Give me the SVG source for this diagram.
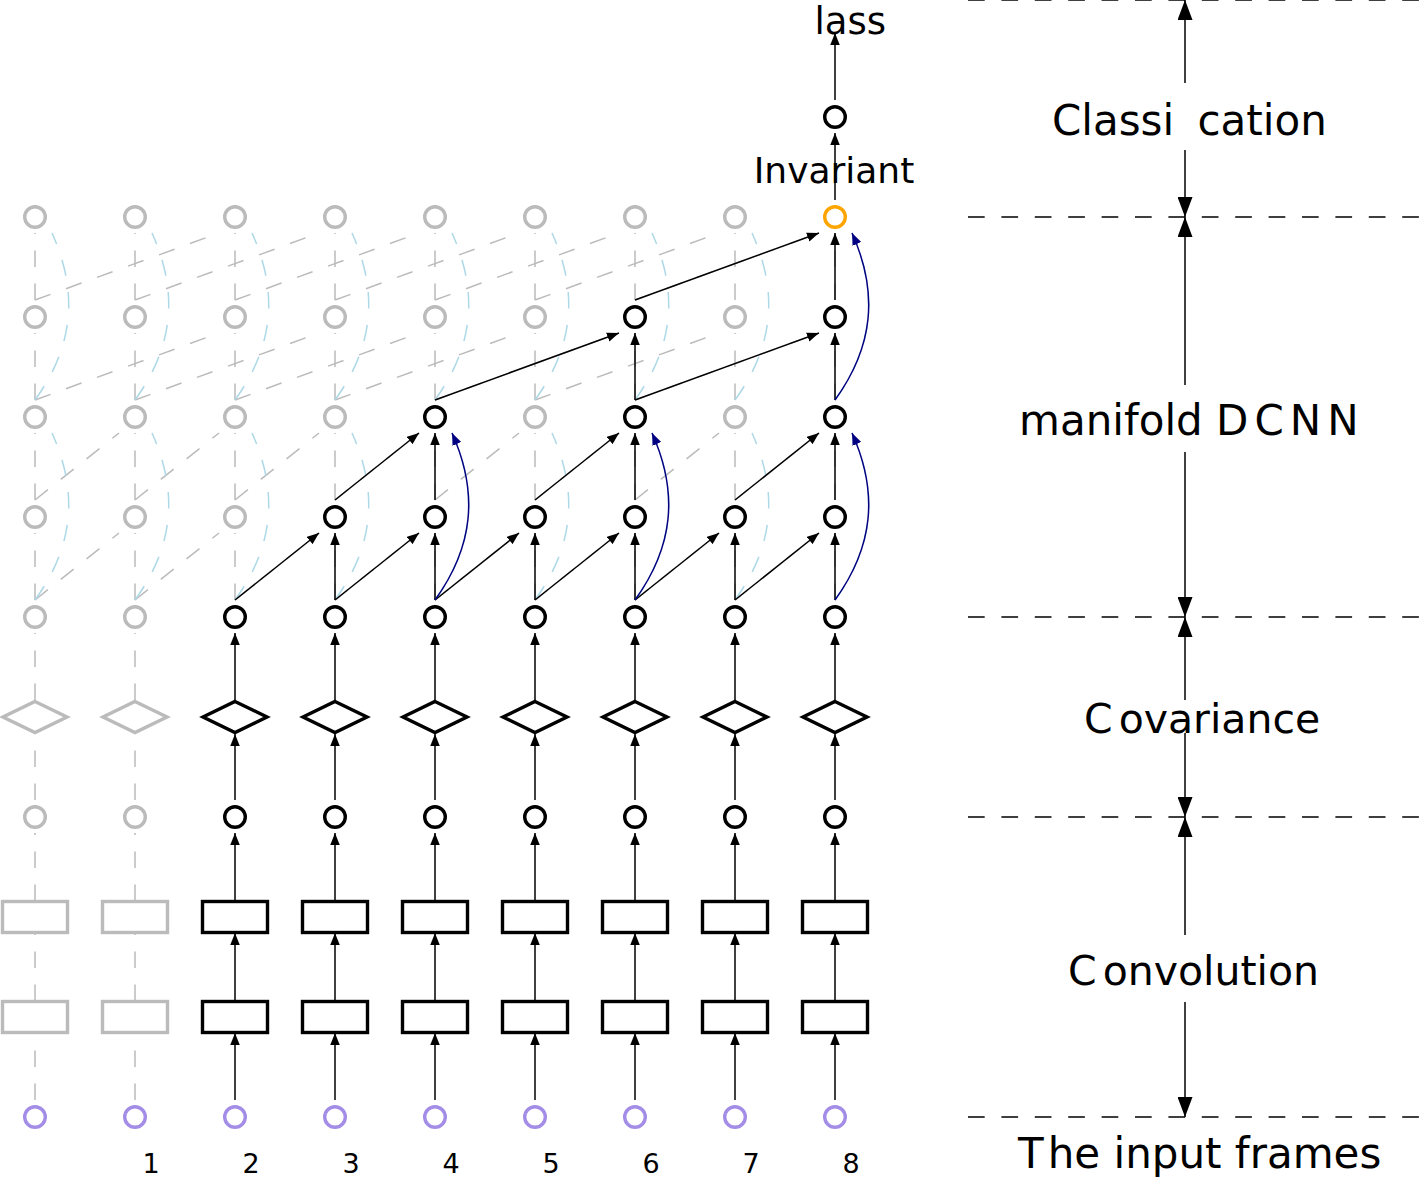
<svg xmlns="http://www.w3.org/2000/svg" width="1421" height="1179" viewBox="0 0 1421 1179">
<style>
.g{fill:none;stroke:#bbbbbb;stroke-width:1.5;stroke-dasharray:16.5 16.5}
.lb{fill:none;stroke:#add8e6;stroke-width:1.5;stroke-dasharray:16.5 16.5}
.e{fill:none;stroke:#000;stroke-width:1.5;marker-end:url(#ah)}
.b{fill:none;stroke:#000080;stroke-width:1.5;marker-end:url(#ahb)}
.nb{fill:#fff;stroke:#000;stroke-width:3.4}
.ng{fill:#fff;stroke:#bbbbbb;stroke-width:3.4}
.no{fill:#fff;stroke:#ffa500;stroke-width:3.4}
.np{fill:#fff;stroke:#a48de6;stroke-width:3.4}
.t{font-family:"DejaVu Sans",sans-serif;fill:#000}
.rl{fill:none;stroke:#000;stroke-width:1.5;stroke-dasharray:16.7 16.7}
.ra{fill:none;stroke:#000;stroke-width:1.5;marker-end:url(#big)}
</style>
<defs>
<marker id="ah" markerUnits="userSpaceOnUse" viewBox="0 0 12 9.5" refX="12" refY="4.75" markerWidth="12" markerHeight="9.5" orient="auto"><path d="M0,0L12,4.75L0,9.5z" fill="#000"/></marker>
<marker id="ahb" markerUnits="userSpaceOnUse" viewBox="0 0 12 9.5" refX="12" refY="4.75" markerWidth="12" markerHeight="9.5" orient="auto"><path d="M0,0L12,4.75L0,9.5z" fill="#000080"/></marker>
<marker id="big" markerUnits="userSpaceOnUse" viewBox="0 0 20 15" refX="20" refY="7.5" markerWidth="20" markerHeight="15" orient="auto"><path d="M0,0L20,7.5L0,15z" fill="#000"/></marker>
</defs>

<g id="connectors">
<g id="gray-edges">
<line class="g" x1="35" y1="600" x2="35" y2="533"/><line class="g" x1="135" y1="600" x2="135" y2="533"/><line class="g" x1="235" y1="600" x2="235" y2="533"/><line class="g" x1="335" y1="600" x2="335" y2="533"/><line class="g" x1="435" y1="600" x2="435" y2="533"/><line class="g" x1="535" y1="600" x2="535" y2="533"/><line class="g" x1="635" y1="600" x2="635" y2="533"/><line class="g" x1="735" y1="600" x2="735" y2="533"/><line class="g" x1="835" y1="600" x2="835" y2="533"/>
<line class="g" x1="35" y1="600" x2="119" y2="533"/><line class="g" x1="135" y1="600" x2="219" y2="533"/><line class="g" x1="235" y1="600" x2="319" y2="533"/><line class="g" x1="335" y1="600" x2="419" y2="533"/><line class="g" x1="435" y1="600" x2="519" y2="533"/><line class="g" x1="535" y1="600" x2="619" y2="533"/><line class="g" x1="635" y1="600" x2="719" y2="533"/><line class="g" x1="735" y1="600" x2="819" y2="533"/>
<line class="g" x1="35" y1="500" x2="35" y2="433"/><line class="g" x1="135" y1="500" x2="135" y2="433"/><line class="g" x1="235" y1="500" x2="235" y2="433"/><line class="g" x1="335" y1="500" x2="335" y2="433"/><line class="g" x1="435" y1="500" x2="435" y2="433"/><line class="g" x1="535" y1="500" x2="535" y2="433"/><line class="g" x1="635" y1="500" x2="635" y2="433"/><line class="g" x1="735" y1="500" x2="735" y2="433"/><line class="g" x1="835" y1="500" x2="835" y2="433"/>
<line class="g" x1="35" y1="500" x2="119" y2="433"/><line class="g" x1="135" y1="500" x2="219" y2="433"/><line class="g" x1="235" y1="500" x2="319" y2="433"/><line class="g" x1="335" y1="500" x2="419" y2="433"/><line class="g" x1="435" y1="500" x2="519" y2="433"/><line class="g" x1="535" y1="500" x2="619" y2="433"/><line class="g" x1="635" y1="500" x2="719" y2="433"/><line class="g" x1="735" y1="500" x2="819" y2="433"/>
<line class="g" x1="35" y1="400" x2="35" y2="333"/><line class="g" x1="135" y1="400" x2="135" y2="333"/><line class="g" x1="235" y1="400" x2="235" y2="333"/><line class="g" x1="335" y1="400" x2="335" y2="333"/><line class="g" x1="435" y1="400" x2="435" y2="333"/><line class="g" x1="535" y1="400" x2="535" y2="333"/><line class="g" x1="635" y1="400" x2="635" y2="333"/><line class="g" x1="735" y1="400" x2="735" y2="333"/><line class="g" x1="835" y1="400" x2="835" y2="333"/>
<line class="g" x1="35" y1="400" x2="219" y2="333"/><line class="g" x1="135" y1="400" x2="319" y2="333"/><line class="g" x1="235" y1="400" x2="419" y2="333"/><line class="g" x1="335" y1="400" x2="519" y2="333"/><line class="g" x1="435" y1="400" x2="619" y2="333"/><line class="g" x1="535" y1="400" x2="719" y2="333"/><line class="g" x1="635" y1="400" x2="819" y2="333"/>
<line class="g" x1="35" y1="300" x2="35" y2="233"/><line class="g" x1="135" y1="300" x2="135" y2="233"/><line class="g" x1="235" y1="300" x2="235" y2="233"/><line class="g" x1="335" y1="300" x2="335" y2="233"/><line class="g" x1="435" y1="300" x2="435" y2="233"/><line class="g" x1="535" y1="300" x2="535" y2="233"/><line class="g" x1="635" y1="300" x2="635" y2="233"/><line class="g" x1="735" y1="300" x2="735" y2="233"/><line class="g" x1="835" y1="300" x2="835" y2="233"/>
<line class="g" x1="35" y1="300" x2="219" y2="233"/><line class="g" x1="135" y1="300" x2="319" y2="233"/><line class="g" x1="235" y1="300" x2="419" y2="233"/><line class="g" x1="335" y1="300" x2="519" y2="233"/><line class="g" x1="435" y1="300" x2="619" y2="233"/><line class="g" x1="535" y1="300" x2="719" y2="233"/><line class="g" x1="635" y1="300" x2="819" y2="233"/>
<line class="g" x1="35" y1="1100" x2="35" y2="1033"/><line class="g" x1="35" y1="1001" x2="35" y2="933"/><line class="g" x1="35" y1="901" x2="35" y2="833"/><line class="g" x1="35" y1="800" x2="35" y2="734"/><line class="g" x1="35" y1="700" x2="35" y2="633"/>
<line class="g" x1="135" y1="1100" x2="135" y2="1033"/><line class="g" x1="135" y1="1001" x2="135" y2="933"/><line class="g" x1="135" y1="901" x2="135" y2="833"/><line class="g" x1="135" y1="800" x2="135" y2="734"/><line class="g" x1="135" y1="700" x2="135" y2="633"/>
</g>
<g id="lightblue-edges">
<path class="lb" d="M35,600C73.4,546.7 78.9,492.9 52,433"/><path class="lb" d="M135,600C173.4,546.7 178.9,492.9 152,433"/><path class="lb" d="M235,600C273.4,546.7 278.9,492.9 252,433"/><path class="lb" d="M335,600C373.4,546.7 378.9,492.9 352,433"/><path class="lb" d="M435,600C473.4,546.7 478.9,492.9 452,433"/><path class="lb" d="M535,600C573.4,546.7 578.9,492.9 552,433"/><path class="lb" d="M635,600C673.4,546.7 678.9,492.9 652,433"/><path class="lb" d="M735,600C773.4,546.7 778.9,492.9 752,433"/><path class="lb" d="M835,600C873.4,546.7 878.9,492.9 852,433"/>
<path class="lb" d="M35,400C73.4,346.7 78.9,292.9 52,233"/><path class="lb" d="M135,400C173.4,346.7 178.9,292.9 152,233"/><path class="lb" d="M235,400C273.4,346.7 278.9,292.9 252,233"/><path class="lb" d="M335,400C373.4,346.7 378.9,292.9 352,233"/><path class="lb" d="M435,400C473.4,346.7 478.9,292.9 452,233"/><path class="lb" d="M535,400C573.4,346.7 578.9,292.9 552,233"/><path class="lb" d="M635,400C673.4,346.7 678.9,292.9 652,233"/><path class="lb" d="M735,400C773.4,346.7 778.9,292.9 752,233"/><path class="lb" d="M835,400C873.4,346.7 878.9,292.9 852,233"/>
</g>
<g id="black-edges">
<line class="e" x1="235" y1="1100" x2="235" y2="1033"/><line class="e" x1="335" y1="1100" x2="335" y2="1033"/><line class="e" x1="435" y1="1100" x2="435" y2="1033"/><line class="e" x1="535" y1="1100" x2="535" y2="1033"/><line class="e" x1="635" y1="1100" x2="635" y2="1033"/><line class="e" x1="735" y1="1100" x2="735" y2="1033"/><line class="e" x1="835" y1="1100" x2="835" y2="1033"/>
<line class="e" x1="235" y1="1001" x2="235" y2="933"/><line class="e" x1="335" y1="1001" x2="335" y2="933"/><line class="e" x1="435" y1="1001" x2="435" y2="933"/><line class="e" x1="535" y1="1001" x2="535" y2="933"/><line class="e" x1="635" y1="1001" x2="635" y2="933"/><line class="e" x1="735" y1="1001" x2="735" y2="933"/><line class="e" x1="835" y1="1001" x2="835" y2="933"/>
<line class="e" x1="235" y1="901" x2="235" y2="833"/><line class="e" x1="335" y1="901" x2="335" y2="833"/><line class="e" x1="435" y1="901" x2="435" y2="833"/><line class="e" x1="535" y1="901" x2="535" y2="833"/><line class="e" x1="635" y1="901" x2="635" y2="833"/><line class="e" x1="735" y1="901" x2="735" y2="833"/><line class="e" x1="835" y1="901" x2="835" y2="833"/>
<line class="e" x1="235" y1="800" x2="235" y2="734"/><line class="e" x1="335" y1="800" x2="335" y2="734"/><line class="e" x1="435" y1="800" x2="435" y2="734"/><line class="e" x1="535" y1="800" x2="535" y2="734"/><line class="e" x1="635" y1="800" x2="635" y2="734"/><line class="e" x1="735" y1="800" x2="735" y2="734"/><line class="e" x1="835" y1="800" x2="835" y2="734"/>
<line class="e" x1="235" y1="700" x2="235" y2="633"/><line class="e" x1="335" y1="700" x2="335" y2="633"/><line class="e" x1="435" y1="700" x2="435" y2="633"/><line class="e" x1="535" y1="700" x2="535" y2="633"/><line class="e" x1="635" y1="700" x2="635" y2="633"/><line class="e" x1="735" y1="700" x2="735" y2="633"/><line class="e" x1="835" y1="700" x2="835" y2="633"/>
<line class="e" x1="335" y1="600" x2="335" y2="533"/><line class="e" x1="435" y1="600" x2="435" y2="533"/><line class="e" x1="535" y1="600" x2="535" y2="533"/><line class="e" x1="635" y1="600" x2="635" y2="533"/><line class="e" x1="735" y1="600" x2="735" y2="533"/><line class="e" x1="835" y1="600" x2="835" y2="533"/>
<line class="e" x1="235" y1="600" x2="319" y2="533"/><line class="e" x1="335" y1="600" x2="419" y2="533"/><line class="e" x1="435" y1="600" x2="519" y2="533"/><line class="e" x1="535" y1="600" x2="619" y2="533"/><line class="e" x1="635" y1="600" x2="719" y2="533"/><line class="e" x1="735" y1="600" x2="819" y2="533"/>
<line class="e" x1="435" y1="500" x2="435" y2="433"/><line class="e" x1="635" y1="500" x2="635" y2="433"/><line class="e" x1="835" y1="500" x2="835" y2="433"/>
<line class="e" x1="335" y1="500" x2="419" y2="433"/><line class="e" x1="535" y1="500" x2="619" y2="433"/><line class="e" x1="735" y1="500" x2="819" y2="433"/>
<line class="e" x1="635" y1="400" x2="635" y2="333"/><line class="e" x1="835" y1="400" x2="835" y2="333"/>
<line class="e" x1="435" y1="400" x2="619" y2="333"/><line class="e" x1="635" y1="400" x2="819" y2="333"/>
<line class="e" x1="835" y1="300" x2="835" y2="233"/><line class="e" x1="635" y1="300" x2="819" y2="233"/>
<line class="e" x1="835" y1="200" x2="835" y2="133"/>
<line class="e" x1="835" y1="100" x2="835" y2="33"/>
</g>
<g id="blue-edges">
<path class="b" d="M435,600C473.4,546.7 478.9,492.9 452,433"/><path class="b" d="M635,600C673.4,546.7 678.9,492.9 652,433"/><path class="b" d="M835,600C873.4,546.7 878.9,492.9 852,433"/><path class="b" d="M835,400C873.4,346.7 878.9,292.9 852,233"/>
</g>
<g id="stage-axis">
<line class="rl" x1="968" y1="0" x2="1421" y2="0"/><line class="rl" x1="968" y1="217" x2="1421" y2="217"/><line class="rl" x1="968" y1="617" x2="1421" y2="617"/><line class="rl" x1="968" y1="817" x2="1421" y2="817"/><line class="rl" x1="968" y1="1117" x2="1421" y2="1117"/>
<line class="ra" x1="1185" y1="83" x2="1185" y2="0"/><line class="ra" x1="1185" y1="150" x2="1185" y2="217"/>
<line class="ra" x1="1185" y1="385" x2="1185" y2="217"/><line class="ra" x1="1185" y1="452" x2="1185" y2="617"/>
<line class="ra" x1="1185" y1="700" x2="1185" y2="617"/><line class="ra" x1="1185" y1="733" x2="1185" y2="817"/>
<line class="ra" x1="1185" y1="935" x2="1185" y2="817"/><line class="ra" x1="1185" y1="1002" x2="1185" y2="1117"/>
</g>
</g>

<g id="nodes">
<g id="in0"><circle class="np" cx="35" cy="1117" r="10.3"/></g><g id="in1"><circle class="np" cx="135" cy="1117" r="10.3"/></g><g id="in2"><circle class="np" cx="235" cy="1117" r="10.3"/></g><g id="in3"><circle class="np" cx="335" cy="1117" r="10.3"/></g><g id="in4"><circle class="np" cx="435" cy="1117" r="10.3"/></g><g id="in5"><circle class="np" cx="535" cy="1117" r="10.3"/></g><g id="in6"><circle class="np" cx="635" cy="1117" r="10.3"/></g><g id="in7"><circle class="np" cx="735" cy="1117" r="10.3"/></g><g id="in8"><circle class="np" cx="835" cy="1117" r="10.3"/></g>

<g id="cA0"><rect class="ng" x="2.5" y="1001.5" width="65" height="31"/></g><g id="cA1"><rect class="ng" x="102.5" y="1001.5" width="65" height="31"/></g><g id="cA2"><rect class="nb" x="202.5" y="1001.5" width="65" height="31"/></g><g id="cA3"><rect class="nb" x="302.5" y="1001.5" width="65" height="31"/></g><g id="cA4"><rect class="nb" x="402.5" y="1001.5" width="65" height="31"/></g><g id="cA5"><rect class="nb" x="502.5" y="1001.5" width="65" height="31"/></g><g id="cA6"><rect class="nb" x="602.5" y="1001.5" width="65" height="31"/></g><g id="cA7"><rect class="nb" x="702.5" y="1001.5" width="65" height="31"/></g><g id="cA8"><rect class="nb" x="802.5" y="1001.5" width="65" height="31"/></g>

<g id="cB0"><rect class="ng" x="2.5" y="901.5" width="65" height="31"/></g><g id="cB1"><rect class="ng" x="102.5" y="901.5" width="65" height="31"/></g><g id="cB2"><rect class="nb" x="202.5" y="901.5" width="65" height="31"/></g><g id="cB3"><rect class="nb" x="302.5" y="901.5" width="65" height="31"/></g><g id="cB4"><rect class="nb" x="402.5" y="901.5" width="65" height="31"/></g><g id="cB5"><rect class="nb" x="502.5" y="901.5" width="65" height="31"/></g><g id="cB6"><rect class="nb" x="602.5" y="901.5" width="65" height="31"/></g><g id="cB7"><rect class="nb" x="702.5" y="901.5" width="65" height="31"/></g><g id="cB8"><rect class="nb" x="802.5" y="901.5" width="65" height="31"/></g>

<g id="f0"><circle class="ng" cx="35" cy="817" r="10.3"/></g><g id="f1"><circle class="ng" cx="135" cy="817" r="10.3"/></g><g id="f2"><circle class="nb" cx="235" cy="817" r="10.3"/></g><g id="f3"><circle class="nb" cx="335" cy="817" r="10.3"/></g><g id="f4"><circle class="nb" cx="435" cy="817" r="10.3"/></g><g id="f5"><circle class="nb" cx="535" cy="817" r="10.3"/></g><g id="f6"><circle class="nb" cx="635" cy="817" r="10.3"/></g><g id="f7"><circle class="nb" cx="735" cy="817" r="10.3"/></g><g id="f8"><circle class="nb" cx="835" cy="817" r="10.3"/></g>

<g id="cov0"><path class="ng" d="M35,701.5L67,717L35,732.5L3,717z"/></g><g id="cov1"><path class="ng" d="M135,701.5L167,717L135,732.5L103,717z"/></g><g id="cov2"><path class="nb" d="M235,701.5L267,717L235,732.5L203,717z"/></g><g id="cov3"><path class="nb" d="M335,701.5L367,717L335,732.5L303,717z"/></g><g id="cov4"><path class="nb" d="M435,701.5L467,717L435,732.5L403,717z"/></g><g id="cov5"><path class="nb" d="M535,701.5L567,717L535,732.5L503,717z"/></g><g id="cov6"><path class="nb" d="M635,701.5L667,717L635,732.5L603,717z"/></g><g id="cov7"><path class="nb" d="M735,701.5L767,717L735,732.5L703,717z"/></g><g id="cov8"><path class="nb" d="M835,701.5L867,717L835,732.5L803,717z"/></g>

<g id="m4-0"><circle class="ng" cx="35" cy="617" r="10.3"/></g><g id="m4-1"><circle class="ng" cx="135" cy="617" r="10.3"/></g><g id="m4-2"><circle class="nb" cx="235" cy="617" r="10.3"/></g><g id="m4-3"><circle class="nb" cx="335" cy="617" r="10.3"/></g><g id="m4-4"><circle class="nb" cx="435" cy="617" r="10.3"/></g><g id="m4-5"><circle class="nb" cx="535" cy="617" r="10.3"/></g><g id="m4-6"><circle class="nb" cx="635" cy="617" r="10.3"/></g><g id="m4-7"><circle class="nb" cx="735" cy="617" r="10.3"/></g><g id="m4-8"><circle class="nb" cx="835" cy="617" r="10.3"/></g>

<g id="m3-0"><circle class="ng" cx="35" cy="517" r="10.3"/></g><g id="m3-1"><circle class="ng" cx="135" cy="517" r="10.3"/></g><g id="m3-2"><circle class="ng" cx="235" cy="517" r="10.3"/></g><g id="m3-3"><circle class="nb" cx="335" cy="517" r="10.3"/></g><g id="m3-4"><circle class="nb" cx="435" cy="517" r="10.3"/></g><g id="m3-5"><circle class="nb" cx="535" cy="517" r="10.3"/></g><g id="m3-6"><circle class="nb" cx="635" cy="517" r="10.3"/></g><g id="m3-7"><circle class="nb" cx="735" cy="517" r="10.3"/></g><g id="m3-8"><circle class="nb" cx="835" cy="517" r="10.3"/></g>

<g id="m2-0"><circle class="ng" cx="35" cy="417" r="10.3"/></g><g id="m2-1"><circle class="ng" cx="135" cy="417" r="10.3"/></g><g id="m2-2"><circle class="ng" cx="235" cy="417" r="10.3"/></g><g id="m2-3"><circle class="ng" cx="335" cy="417" r="10.3"/></g><g id="m2-4"><circle class="nb" cx="435" cy="417" r="10.3"/></g><g id="m2-5"><circle class="ng" cx="535" cy="417" r="10.3"/></g><g id="m2-6"><circle class="nb" cx="635" cy="417" r="10.3"/></g><g id="m2-7"><circle class="ng" cx="735" cy="417" r="10.3"/></g><g id="m2-8"><circle class="nb" cx="835" cy="417" r="10.3"/></g>

<g id="m1-0"><circle class="ng" cx="35" cy="317" r="10.3"/></g><g id="m1-1"><circle class="ng" cx="135" cy="317" r="10.3"/></g><g id="m1-2"><circle class="ng" cx="235" cy="317" r="10.3"/></g><g id="m1-3"><circle class="ng" cx="335" cy="317" r="10.3"/></g><g id="m1-4"><circle class="ng" cx="435" cy="317" r="10.3"/></g><g id="m1-5"><circle class="ng" cx="535" cy="317" r="10.3"/></g><g id="m1-6"><circle class="nb" cx="635" cy="317" r="10.3"/></g><g id="m1-7"><circle class="ng" cx="735" cy="317" r="10.3"/></g><g id="m1-8"><circle class="nb" cx="835" cy="317" r="10.3"/></g>

<g id="m0-0"><circle class="ng" cx="35" cy="217" r="10.3"/></g><g id="m0-1"><circle class="ng" cx="135" cy="217" r="10.3"/></g><g id="m0-2"><circle class="ng" cx="235" cy="217" r="10.3"/></g><g id="m0-3"><circle class="ng" cx="335" cy="217" r="10.3"/></g><g id="m0-4"><circle class="ng" cx="435" cy="217" r="10.3"/></g><g id="m0-5"><circle class="ng" cx="535" cy="217" r="10.3"/></g><g id="m0-6"><circle class="ng" cx="635" cy="217" r="10.3"/></g><g id="m0-7"><circle class="ng" cx="735" cy="217" r="10.3"/></g><g id="m0-8"><circle class="no" cx="835" cy="217" r="10.3"/></g>

<g id="cls"><circle class="nb" cx="835" cy="117" r="10.3"/></g>
<g id="lbl-invariant"><text class="t" x="834" y="183" font-size="36" text-anchor="middle">Invariant</text></g>
<g id="lbl-class"><text class="t" x="814.5" y="34" font-size="37">lass</text></g>
</g>

<g id="labels">
<text class="t" x="1052" y="135" font-size="42">Classi <tspan dx="10">cation</tspan></text>
<text class="t" x="1019" y="435" font-size="42">manifold <tspan letter-spacing="6">DCNN</tspan></text>
<text class="t" x="1084" y="733" font-size="41">C<tspan dx="6">ovariance</tspan></text>
<text class="t" x="1068" y="985" font-size="41">C<tspan dx="6">onvolution</tspan></text>
<text class="t" x="1018" y="1168" font-size="42">T<tspan dx="4">he input frames</tspan></text>
</g>
<g id="frame-numbers" class="t" font-size="27" text-anchor="middle">
<text x="151" y="1173">1</text><text x="251" y="1173">2</text><text x="351" y="1173">3</text><text x="451" y="1173">4</text><text x="551" y="1173">5</text><text x="651" y="1173">6</text><text x="751" y="1173">7</text><text x="851" y="1173">8</text>
</g>
</svg>
